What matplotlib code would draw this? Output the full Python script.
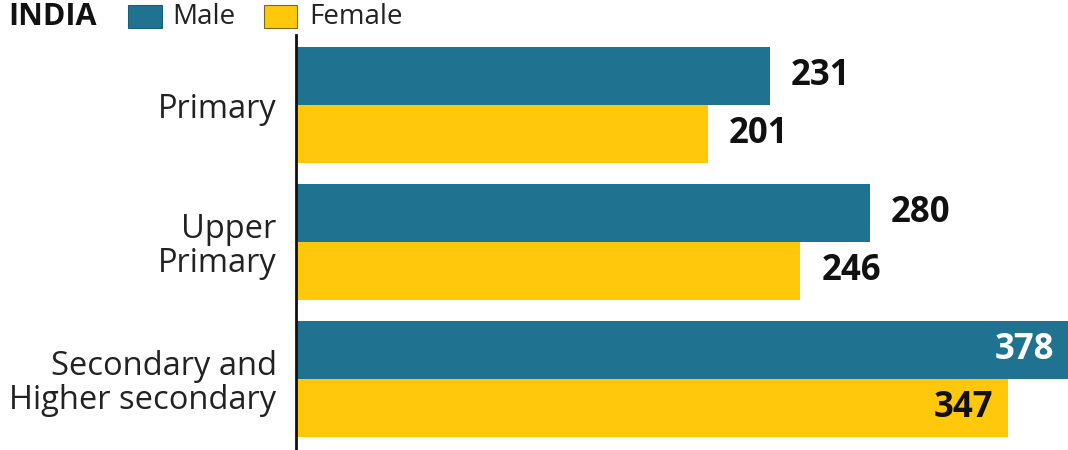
import matplotlib.pyplot as plt
from matplotlib.patches import Rectangle

plt.rcParams['font.family'] = ['Open Sans', 'DejaVu Sans']

categories = ['Primary', 'Upper\nPrimary', 'Secondary and\nHigher secondary']
male = [231, 280, 378]
female = [201, 246, 347]

MALE_COLOR = '#1F7391'
FEMALE_COLOR = '#FFC80A'

fig = plt.figure(figsize=(10.68, 4.5), dpi=100)
ax = fig.add_axes([296 / 1068, 0.0, 1 - 296 / 1068, 1 - 35 / 450])

h = 0.42
ys = list(range(len(categories)))
ax.barh([y - h / 2 for y in ys], male, height=h, color=MALE_COLOR)
ax.barh([y + h / 2 for y in ys], female, height=h, color=FEMALE_COLOR)

xmax = 376.5
ax.set_xlim(0, xmax)
ax.set_ylim(2.518, -0.511)


def put_label(v, y, inside_color):
    # labels that would run off the edge go inside the bar end
    end = min(v, xmax)
    if v > 0.85 * xmax:
        ax.annotate(str(v), (end, y), xytext=(-10, 0), textcoords='offset points',
                    ha='right', va='center', fontsize=25, fontweight='bold', color=inside_color)
    else:
        ax.annotate(str(v), (v, y), xytext=(15, 0), textcoords='offset points',
                    ha='left', va='center', fontsize=25, fontweight='bold', color='#111111')


for y, v in zip(ys, male):
    put_label(v, y - h / 2, 'white')
for y, v in zip(ys, female):
    put_label(v, y + h / 2, '#111111')

ax.set_yticks(ys)
ax.set_yticklabels(categories, fontsize=23.5, color='#222222', linespacing=1.05)
ax.tick_params(axis='y', length=0, pad=14)
ax.set_xticks([])
for s in ['top', 'right', 'bottom']:
    ax.spines[s].set_visible(False)
ax.spines['left'].set_linewidth(2)
ax.spines['left'].set_color('#111111')

# header legend
fig.text(8 / 1068, 1 - 17 / 450, 'INDIA', fontsize=22, fontweight='bold', color='#111111',
         ha='left', va='center')
fig.patches.append(Rectangle((128 / 1068, 1 - 28 / 450), 34 / 1068, 23 / 450,
                             transform=fig.transFigure, facecolor=MALE_COLOR,
                             edgecolor='#1a5f78', lw=0.8))
fig.text(172 / 1068, 1 - 17 / 450, 'Male', fontsize=20, color='#222222', ha='left', va='center')
fig.patches.append(Rectangle((264 / 1068, 1 - 28 / 450), 33 / 1068, 23 / 450,
                             transform=fig.transFigure, facecolor=FEMALE_COLOR,
                             edgecolor='#7a6a20', lw=0.8))
fig.text(309 / 1068, 1 - 17 / 450, 'Female', fontsize=20, color='#222222', ha='left', va='center')

fig.savefig('out.png', dpi=100)
